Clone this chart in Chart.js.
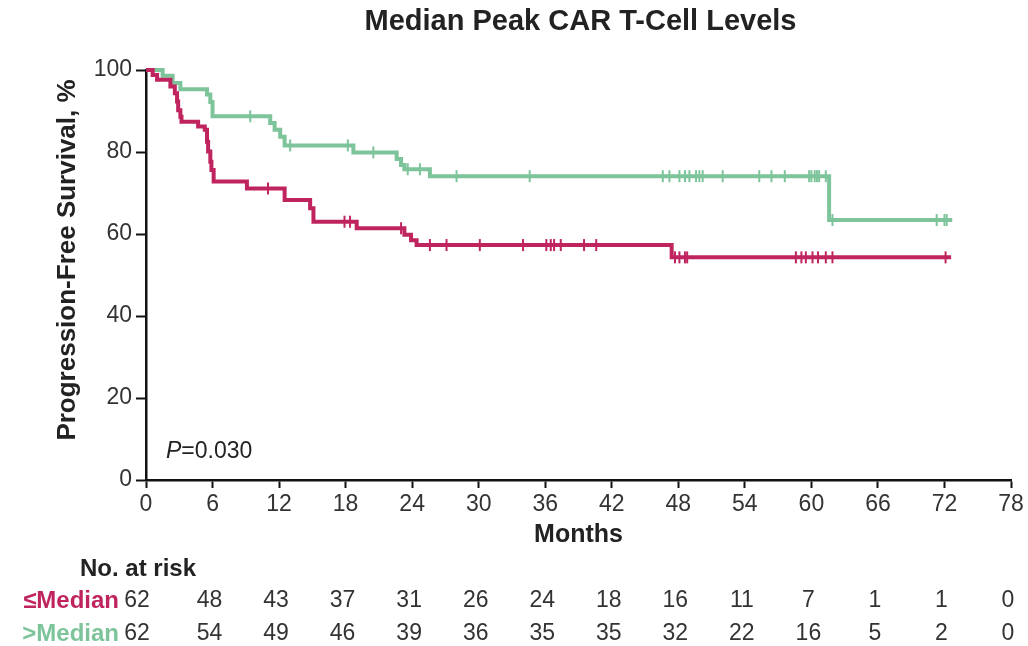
<!DOCTYPE html>
<html lang="en">
<head>
    <meta charset="UTF-8">
    <title>Median Peak CAR T-Cell Levels</title>
    <script src="https://cdn.jsdelivr.net/npm/chart.js"></script>
    <style>
        body {
            margin: 0;
            background: #fff;
        }
        canvas {
            display: block;
        }
    </style>
</head>
<body>
    <canvas id="km" width="1028" height="646"></canvas>

    <script>
        // Kaplan-Meier steps (months, % progression-free)
        const lowTimes = [0, 0.6, 1.0, 2.2, 2.6, 2.8, 2.9, 3.1, 3.2, 4.7, 5.3, 5.5, 5.6, 5.8, 5.9, 6.1, 9.1, 12.5, 14.8, 15.1, 19.0, 23.3, 23.9, 24.4, 47.4, 72.6];
        const lowSurv = [100, 98.8, 97.6, 96.0, 94.3, 92.3, 90.2, 88.6, 87.4, 86.2, 85.4, 82.5, 80.1, 77.6, 75.6, 72.8, 71.1, 68.3, 66.3, 63.0, 61.4, 59.8, 58.5, 57.3, 54.3, 54.3];
        const lowCensored = [11.0, 17.9, 18.4, 23.0, 25.6, 27.1, 30.1, 34.0, 36.1, 36.5, 36.8, 37.4, 39.5, 40.6, 47.7, 48.1, 48.6, 48.8, 58.6, 59.1, 59.5, 60.1, 60.6, 61.3, 61.9, 72.1];

        const highTimes = [0, 1.5, 2.4, 3.1, 5.5, 5.8, 6.0, 11.2, 11.6, 12.1, 12.5, 18.7, 22.6, 23.0, 23.3, 25.6, 61.6, 72.7];
        const highSurv = [100, 98.6, 96.8, 95.3, 94.0, 92.2, 88.7, 87.1, 85.4, 83.7, 81.6, 79.9, 78.3, 76.8, 75.8, 74.1, 63.4, 63.4];
        const highCensored = [9.4, 13.0, 18.2, 20.5, 23.6, 24.7, 28.0, 34.6, 46.6, 47.2, 48.1, 48.6, 49.0, 49.6, 49.9, 50.2, 52.0, 55.3, 56.4, 57.6, 59.8, 60.0, 60.3, 60.5, 60.7, 61.3, 61.9, 71.3, 72.0, 72.2];

        const riskMonths = [0, 6, 12, 18, 24, 30, 36, 42, 48, 54, 60, 66, 72, 78];
        const riskLow = [62, 48, 43, 37, 31, 26, 24, 18, 16, 11, 7, 1, 1, 0];
        const riskHigh = [62, 54, 49, 46, 39, 36, 35, 35, 32, 22, 16, 5, 2, 0];

        const RED = '#c0245f';
        const GREEN = '#7dc49a';
        const FONT = "'Liberation Sans', Arial, sans-serif";

        function steps(times, surv) {
            return times.map((t, i) => ({ x: t, y: surv[i] }));
        }

        // survival level at time t (value of the step curve)
        function levelAt(times, surv, t) {
            let s = surv[0];
            for (let i = 0; i < times.length; i++) {
                if (times[i] <= t) s = surv[i];
            }
            return s;
        }

        function censorPoints(censored, times, surv) {
            return censored.map(t => ({ x: t, y: levelAt(times, surv, t) }));
        }

        const textPlugin = {
            id: 'kmText',
            afterDraw(chart) {
                const c = chart.ctx;
                const xs = chart.scales.x;
                const area = chart.chartArea;
                const mid = (area.left + area.right) / 2;
                c.save();
                c.fillStyle = '#222';
                c.textBaseline = 'middle';

                c.textAlign = 'center';
                c.font = 'bold 29px ' + FONT;
                c.fillText('Median Peak CAR T-Cell Levels', mid + 2, 22);

                c.font = 'bold 25px ' + FONT;
                c.fillText('Months', mid, 535);

                c.save();
                c.translate(68, 260);
                c.rotate(-Math.PI / 2);
                c.font = 'bold 26px ' + FONT;
                c.fillText('Progression-Free Survival, %', 0, 0);
                c.restore();

                c.textAlign = 'left';
                c.font = 'italic 23px ' + FONT;
                c.fillText('P', 166, 452);
                const pw = c.measureText('P').width;
                c.font = '23px ' + FONT;
                c.fillText('=0.030', 166 + pw, 452);

                c.font = 'bold 24px ' + FONT;
                c.fillText('No. at risk', 80, 569);

                c.textAlign = 'right';
                c.font = 'bold 24px ' + FONT;
                c.fillStyle = RED;
                c.fillText('\u2264Median', 119, 601);
                c.fillStyle = GREEN;
                c.fillText('>Median', 119, 634);

                c.textAlign = 'center';
                c.font = '23px ' + FONT;
                c.fillStyle = '#333';
                riskMonths.forEach((m, i) => {
                    const px = xs.getPixelForValue(m) - (i === 0 ? 9 : 3);
                    c.fillText(String(riskLow[i]), px, 601);
                    c.fillText(String(riskHigh[i]), px, 634);
                });
                c.restore();
            }
        };

        const ctx = document.getElementById('km').getContext('2d');
        new Chart(ctx, {
            type: 'scatter',
            data: {
                datasets: [{
                    label: '\u2264Median',
                    data: steps(lowTimes, lowSurv),
                    showLine: true,
                    stepped: true,
                    borderColor: RED,
                    borderWidth: 4,
                    pointRadius: 0,
                    clip: false
                }, {
                    label: '>Median',
                    data: steps(highTimes, highSurv),
                    showLine: true,
                    stepped: true,
                    borderColor: GREEN,
                    borderWidth: 4,
                    pointRadius: 0,
                    clip: false
                }, {
                    label: '\u2264Median censored',
                    data: censorPoints(lowCensored, lowTimes, lowSurv),
                    pointStyle: 'line',
                    rotation: 90,
                    pointRadius: 6,
                    borderColor: RED,
                    borderWidth: 2,
                    clip: false
                }, {
                    label: '>Median censored',
                    data: censorPoints(highCensored, highTimes, highSurv),
                    pointStyle: 'line',
                    rotation: 90,
                    pointRadius: 6,
                    borderColor: GREEN,
                    borderWidth: 2,
                    clip: false
                }]
            },
            options: {
                responsive: false,
                animation: false,
                layout: {
                    padding: { top: 70, right: 17, bottom: 126, left: 0 }
                },
                plugins: {
                    legend: { display: false },
                    tooltip: { enabled: false }
                },
                scales: {
                    x: {
                        type: 'linear',
                        min: 0,
                        max: 78,
                        afterFit: s => { s.height = 40; },
                        border: { display: true, color: '#111', width: 2.5 },
                        grid: { drawOnChartArea: false, drawTicks: true, tickLength: 8, tickColor: '#111', tickWidth: 2 },
                        ticks: {
                            stepSize: 6,
                            autoSkip: false,
                            maxRotation: 0,
                            padding: 3,
                            color: '#333',
                            font: { family: FONT, size: 23 }
                        }
                    },
                    y: {
                        min: 0,
                        max: 100,
                        afterFit: s => { s.width = 146; },
                        border: { display: true, color: '#111', width: 2.5 },
                        grid: { drawOnChartArea: false, drawTicks: true, tickLength: 10, tickColor: '#111', tickWidth: 2 },
                        ticks: {
                            stepSize: 20,
                            padding: 4,
                            color: '#333',
                            font: { family: FONT, size: 23 }
                        }
                    }
                }
            },
            plugins: [textPlugin]
        });
    </script>
</body>
</html>
